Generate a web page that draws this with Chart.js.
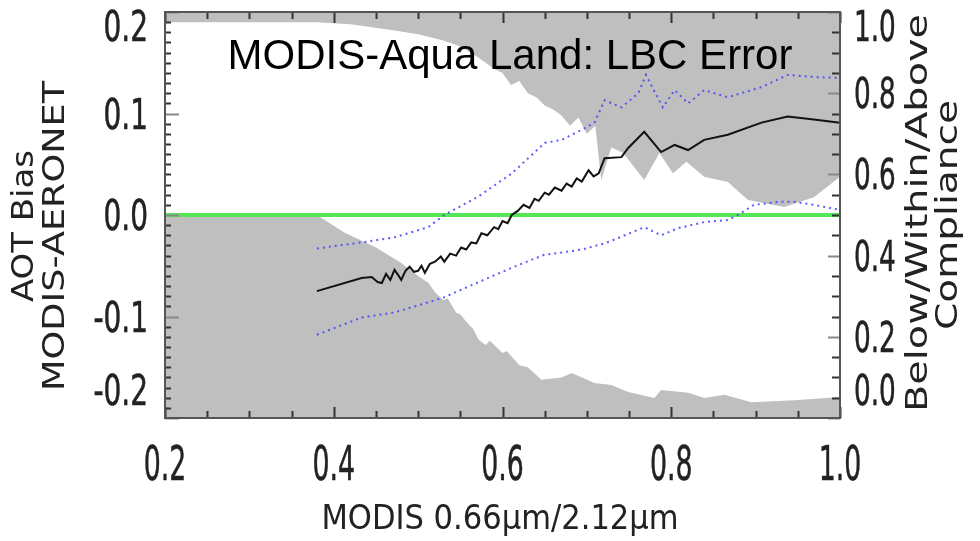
<!DOCTYPE html>
<html>
<head>
<meta charset="utf-8">
<script src="https://cdn.jsdelivr.net/npm/chart.js@4"></script>
<style>
  html, body { margin: 0; padding: 0; background: #fff; }
  canvas { display: block; }
</style>
</head>
<body>
<canvas id="lbcChart" width="980" height="541"></canvas>
<script>

// gray region above (right axis, fraction from top)
let aboveX = [0.2, 0.38, 0.42, 0.47, 0.50, 0.53, 0.55, 0.57, 0.59, 0.60, 0.61, 0.62, 0.63, 0.64, 0.65, 0.66, 0.67, 0.68, 0.69, 0.70, 0.71, 0.717, 0.729, 0.743, 0.768, 0.786, 0.802, 0.818, 0.839, 0.867, 0.891, 0.934, 0.969, 1.0];
let aboveY = [0.975, 0.975, 0.97, 0.955, 0.945, 0.93, 0.915, 0.89, 0.86, 0.85, 0.82, 0.83, 0.80, 0.79, 0.77, 0.76, 0.745, 0.72, 0.74, 0.70, 0.72, 0.586, 0.667, 0.653, 0.586, 0.653, 0.603, 0.631, 0.594, 0.581, 0.537, 0.52, 0.544, 0.594];

// gray region below (right axis, fraction from bottom)
let belowX = [0.2, 0.38, 0.413, 0.449, 0.48, 0.50, 0.512, 0.52, 0.53, 0.535, 0.545, 0.55, 0.56, 0.565, 0.572, 0.58, 0.585, 0.60, 0.605, 0.62, 0.63, 0.646, 0.67, 0.682, 0.709, 0.729, 0.749, 0.78, 0.788, 0.82, 0.839, 0.863, 0.895, 0.946, 1.0];
let belowY = [0.5, 0.5, 0.456, 0.421, 0.382, 0.35, 0.333, 0.31, 0.29, 0.295, 0.26, 0.255, 0.23, 0.22, 0.192, 0.18, 0.19, 0.16, 0.165, 0.13, 0.125, 0.094, 0.10, 0.111, 0.086, 0.081, 0.064, 0.049, 0.069, 0.062, 0.049, 0.057, 0.039, 0.044, 0.052];

// AOT bias (left axis)
let biasX = [0.38, 0.433, 0.445, 0.452, 0.457, 0.462, 0.467, 0.472, 0.477, 0.48, 0.485, 0.49, 0.495, 0.50, 0.504, 0.508, 0.514, 0.52, 0.527, 0.531, 0.538, 0.545, 0.551, 0.557, 0.563, 0.569, 0.575, 0.582, 0.59, 0.595, 0.60, 0.606, 0.611, 0.618, 0.625, 0.632, 0.638, 0.643, 0.65, 0.655, 0.662, 0.67, 0.676, 0.682, 0.688, 0.694, 0.702, 0.708, 0.714, 0.721, 0.741, 0.749, 0.768, 0.788, 0.804, 0.82, 0.839, 0.867, 0.907, 0.938, 0.969, 1.0];
let biasY = [-0.075, -0.062, -0.061, -0.066, -0.067, -0.058, -0.064, -0.054, -0.060, -0.064, -0.055, -0.051, -0.056, -0.055, -0.050, -0.057, -0.048, -0.046, -0.041, -0.046, -0.038, -0.040, -0.032, -0.034, -0.027, -0.028, -0.018, -0.020, -0.012, -0.014, -0.006, -0.008, 0.0, 0.004, 0.010, 0.007, 0.016, 0.014, 0.022, 0.020, 0.027, 0.024, 0.031, 0.028, 0.036, 0.033, 0.044, 0.038, 0.041, 0.056, 0.057, 0.066, 0.082, 0.062, 0.069, 0.064, 0.074, 0.079, 0.091, 0.097, 0.094, 0.091];

// blue dotted envelopes (left axis)
let upperX = [0.38, 0.433, 0.472, 0.512, 0.531, 0.571, 0.611, 0.65, 0.67, 0.694, 0.709, 0.721, 0.741, 0.761, 0.77, 0.79, 0.804, 0.82, 0.839, 0.867, 0.907, 0.938, 0.969, 1.0];
let upperY = [-0.033, -0.027, -0.022, -0.012, 0.0, 0.018, 0.041, 0.071, 0.074, 0.084, 0.091, 0.113, 0.106, 0.12, 0.138, 0.106, 0.123, 0.110, 0.123, 0.116, 0.126, 0.138, 0.136, 0.135];
let lowerX = [0.38, 0.433, 0.472, 0.508, 0.531, 0.572, 0.611, 0.65, 0.67, 0.694, 0.721, 0.745, 0.768, 0.788, 0.808, 0.839, 0.867, 0.879, 0.898, 0.927, 0.946, 0.969, 1.0];
let lowerY = [-0.118, -0.101, -0.096, -0.087, -0.081, -0.066, -0.052, -0.039, -0.037, -0.034, -0.028, -0.020, -0.012, -0.020, -0.013, -0.007, -0.005, 0.0, 0.010, 0.013, 0.013, 0.010, 0.005];

let zeroX = [0.2, 1.0];
let zeroY = [0, 0];

let xTicks = [0.2, 0.4, 0.6, 0.8, 1.0];
let biasTicks = [-0.2, -0.1, 0.0, 0.1, 0.2];
let fracTicks = [0.0, 0.2, 0.4, 0.6, 0.8, 1.0];

let chartTitle = "MODIS-Aqua Land: LBC Error";
let xTitle = "MODIS 0.66\u00b5m/2.12\u00b5m";
let leftTitle = ["AOT Bias", "MODIS-AERONET"];
let rightTitle = ["Below/Within/Above", "Compliance"];

function pairs(xs, ys) {
    let out = [];
    for (let i = 0; i < xs.length; i++) out.push({x: xs[i], y: ys[i]});
    return out;
}

const narrow = '"DejaVu Sans Condensed", "DejaVu Sans", sans-serif';

// condensed label text, squeezed sideways to the reference width
function squeezed(ctx, text, x, y, size, sx, align) {
    ctx.save();
    ctx.translate(x, y);
    ctx.scale(sx, 1);
    ctx.font = size + 'px ' + narrow;
    ctx.textAlign = align;
    ctx.textBaseline = 'alphabetic';
    ctx.lineWidth = 0.5;
    ctx.strokeStyle = ctx.fillStyle;
    ctx.fillText(text, 0, 0);
    ctx.strokeText(text, 0, 0);
    ctx.restore();
}

// frame, inward ticks, tick labels, titles
const decorations = {
    id: 'decorations',
    afterDatasetsDraw(chart) {
        const ctx = chart.ctx;
        const a = chart.chartArea;
        const sx = chart.scales.x, sy = chart.scales.y, sy1 = chart.scales.y1;
        ctx.save();

        ctx.fillStyle = '#000';
        ctx.font = '42px "Liberation Sans", Arial, sans-serif';
        ctx.textAlign = 'center';
        ctx.textBaseline = 'alphabetic';
        ctx.fillText(chartTitle, 510, 69);

        ctx.lineWidth = 2;
        ctx.strokeStyle = '#333';
        // x ticks every 0.05, top and bottom
        for (let i = 0; i <= 16; i++) {
            let v = 0.2 + i * 0.05;
            let px = Math.round(sx.getPixelForValue(v)) + 0.5;
            let len = (i % 4 === 0) ? 11 : 7;
            ctx.beginPath();
            ctx.moveTo(px, a.bottom); ctx.lineTo(px, a.bottom - len);
            ctx.moveTo(px, a.top); ctx.lineTo(px, a.top + len);
            ctx.stroke();
        }
        // left ticks every 0.01
        for (let i = 0; i <= 40; i++) {
            let v = -0.2 + i * 0.01;
            let py = Math.round(sy.getPixelForValue(v)) + 0.5;
            let len = (i % 10 === 0) ? 14 : 6;
            ctx.strokeStyle = (i % 10 === 0) ? '#888' : '#333';
            ctx.beginPath();
            ctx.moveTo(a.left, py); ctx.lineTo(a.left + len, py);
            ctx.stroke();
        }
        // right ticks every 0.05
        for (let i = 0; i <= 20; i++) {
            let v = i * 0.05;
            let py = Math.round(sy1.getPixelForValue(v)) + 0.5;
            let len = (i % 4 === 0) ? 12 : 8;
            ctx.strokeStyle = (i % 4 === 0) ? '#888' : '#333';
            ctx.beginPath();
            ctx.moveTo(a.right, py); ctx.lineTo(a.right - len, py);
            ctx.stroke();
        }
        ctx.strokeStyle = '#555';
        ctx.lineWidth = 2;
        ctx.strokeRect(a.left, a.top, a.right - a.left, a.bottom - a.top);

        // tick labels from the scales' own ticks
        ctx.fillStyle = '#222';
        sx.ticks.forEach(t => {
            squeezed(ctx, t.value.toFixed(1), sx.getPixelForValue(t.value), 480, 48, 0.62, 'center');
        });
        sy.ticks.forEach(t => {
            let cy = Math.min(Math.max(sy.getPixelForValue(t.value), a.top + 14), a.bottom - 28);
            squeezed(ctx, t.value.toFixed(1), a.left - 17, cy + 15, 42, 0.74, 'right');
        });
        sy1.ticks.forEach(t => {
            let cy = Math.min(Math.max(sy1.getPixelForValue(t.value), a.top + 14), a.bottom - 28);
            squeezed(ctx, t.value.toFixed(1), a.right + 14, cy + 15, 43, 0.68, 'left');
        });

        // x axis title
        ctx.fillStyle = '#222';
        ctx.font = '34px ' + narrow;
        ctx.textAlign = 'center';
        ctx.fillText(xTitle, 500, 529);

        // rotated y titles, stretched to the lengths in the picture
        function rotated(text, cx, cy, len) {
            ctx.save();
            ctx.translate(cx, cy);
            ctx.rotate(-Math.PI / 2);
            ctx.font = '31px "DejaVu Sans", sans-serif';
            let w = ctx.measureText(text).width;
            ctx.scale(len / w, 1);
            ctx.textAlign = 'center';
            ctx.textBaseline = 'middle';
            ctx.fillText(text, 0, 0);
            ctx.restore();
        }
        rotated(leftTitle[0], 25, 226, 152);
        rotated(leftTitle[1], 56, 236, 310);
        rotated(rightTitle[0], 919, 213, 398);
        rotated(rightTitle[1], 949, 215, 230);

        ctx.restore();
    }
};

function fixedBox(w, h) {
    return (s) => {
        if (w !== null) s.width = w;
        if (h !== null) s.height = h;
        s.paddingTop = 0; s.paddingBottom = 0;
        s.paddingLeft = 0; s.paddingRight = 0;
    };
}

let ctx = document.getElementById("lbcChart").getContext("2d");

let data = {
    datasets: [
        {
            label: "Bias",
            data: pairs(biasX, biasY),
            yAxisID: 'y',
            borderColor: "#111",
            borderWidth: 2,
            pointRadius: 0,
            fill: false,
            order: 1
        },
        {
            label: "Upper",
            data: pairs(upperX, upperY),
            yAxisID: 'y',
            borderColor: "rgba(65,65,250,0.85)",
            borderWidth: 2,
            borderDash: [2, 4],
            pointRadius: 0,
            fill: false,
            order: 2
        },
        {
            label: "Lower",
            data: pairs(lowerX, lowerY),
            yAxisID: 'y',
            borderColor: "rgba(65,65,250,0.85)",
            borderWidth: 2,
            borderDash: [2, 4],
            pointRadius: 0,
            fill: false,
            order: 3
        },
        {
            label: "Zero",
            data: pairs(zeroX, zeroY),
            yAxisID: 'y',
            borderColor: "#55e655",
            borderWidth: 4,
            pointRadius: 0,
            fill: false,
            order: 4
        },
        {
            label: "Above",
            data: pairs(aboveX, aboveY),
            yAxisID: 'y1',
            borderColor: "rgba(0,0,0,0)",
            borderWidth: 0,
            backgroundColor: "#bfbfbf",
            pointRadius: 0,
            fill: 'end',
            order: 5
        },
        {
            label: "Below",
            data: pairs(belowX, belowY),
            yAxisID: 'y1',
            borderColor: "rgba(0,0,0,0)",
            borderWidth: 0,
            backgroundColor: "#bfbfbf",
            pointRadius: 0,
            fill: 'start',
            order: 6
        }
    ]
};

let lbcChart = new Chart(ctx, {
    type: 'line',
    data: data,
    plugins: [decorations],
    options: {
        responsive: false,
        animation: false,
        devicePixelRatio: 1,
        layout: { padding: { top: 12, left: 0, right: 0, bottom: 0 } },
        plugins: {
            legend: { display: false },
            tooltip: { enabled: false },
            title: { display: false }
        },
        scales: {
            x: {
                type: 'linear',
                min: 0.2,
                max: 1.0,
                grid: { display: false, drawTicks: false },
                border: { display: false },
                afterBuildTicks: (s) => { s.ticks = xTicks.map(v => ({value: v})); },
                afterFit: fixedBox(null, 123),
                ticks: { display: false }
            },
            y: {
                type: 'linear',
                position: 'left',
                min: -0.2,
                max: 0.2,
                grid: { display: false, drawTicks: false },
                border: { display: false },
                afterBuildTicks: (s) => { s.ticks = biasTicks.map(v => ({value: v})); },
                afterFit: fixedBox(165, null),
                ticks: { display: false }
            },
            y1: {
                type: 'linear',
                position: 'right',
                min: 0,
                max: 1,
                grid: { display: false, drawTicks: false },
                border: { display: false },
                afterBuildTicks: (s) => { s.ticks = fracTicks.map(v => ({value: v})); },
                afterFit: fixedBox(140, null),
                ticks: { display: false }
            }
        }
    }
});
</script>
</body>
</html>
